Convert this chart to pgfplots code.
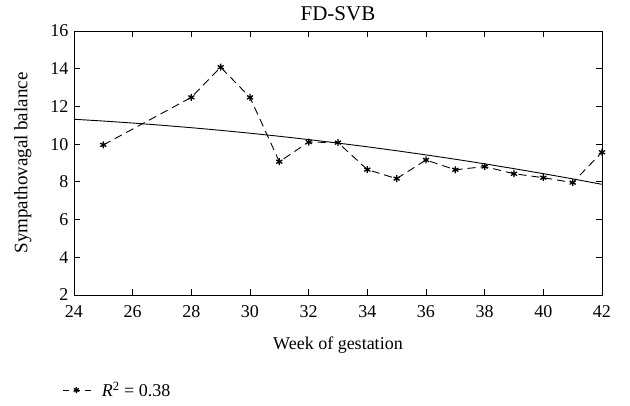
\documentclass[border=0pt]{standalone}
\usepackage{pgfplots}
\pgfplotsset{compat=1.18}
\usepackage{fontspec}
\setmainfont{Liberation Serif}
\begin{document}
\begin{tikzpicture}[font=\fontsize{18}{21}\selectfont]
\useasboundingbox (-74pt,-111pt) rectangle (556pt,295pt);
\begin{axis}[
  at={(0,0)}, anchor=south west,
  scale only axis,
  width=528pt, height=264pt,
  xmin=24, xmax=42, ymin=2, ymax=16,
  xtick={24,26,...,42}, ytick={2,4,...,16},
  /pgf/number format/assume math mode=true,
  tick align=inside,
  tick style={black, line width=0.8pt},
  major tick length=6pt,
  axis line style={black, line width=0.8pt},
  title={FD-SVB},
  title style={at={(axis description cs:0.5,1.042)}, anchor=center, font=\fontsize{21}{24}\selectfont},
  xlabel={Week of gestation},
  ylabel={Sympathovagal balance},
  xlabel style={at={(axis description cs:0.5,-0.188)}, anchor=center, font=\fontsize{18}{21}\selectfont},
  ylabel style={at={(axis description cs:-0.097,0.5)}, anchor=center, font=\fontsize{19}{22}\selectfont},
  xticklabel style={yshift=-7pt},
  yticklabel style={xshift=-2pt},
  legend style={at={(-0.027,-0.36)}, anchor=west, draw=none, fill=none,
    font=\fontsize{18}{21}\selectfont},
  legend cell align=left,
  legend image code/.code={
    \draw[black, line width=0.9pt, dash pattern=on 6pt off 5pt] (0pt,0pt) -- (30pt,0pt);
    \draw[black, line width=1pt] plot[mark=asterisk, mark size=3pt] coordinates {(13pt,0pt)};
  },
]
\addplot[black, line width=0.9pt, dash pattern=on 8pt off 5pt, mark=asterisk, mark size=3.5pt,
  mark options={solid, line width=1.3pt}] coordinates {
(25,9.96) (28,12.48) (29,14.08) (30,12.48) (31,9.07) (32,10.11) (33,10.08)
(34,8.65) (35,8.17) (36,9.16) (37,8.64) (38,8.81) (39,8.43) (40,8.22)
(41,7.96) (42,9.57)
};
\addlegendentry{\hspace{6pt}\textit{R}\textsuperscript{2} = 0.38}
\addplot[black, line width=0.9pt, forget plot] coordinates {
(24,11.32) (25,11.225) (26,11.119) (27,11.001) (28,10.872) (29,10.732)
(30,10.58) (31,10.417) (32,10.242) (33,10.056) (34,9.859) (35,9.650)
(36,9.43) (37,9.199) (38,8.956) (39,8.700) (40,8.435) (41,8.158) (42,7.87)
};
\end{axis}
\end{tikzpicture}
\end{document}
